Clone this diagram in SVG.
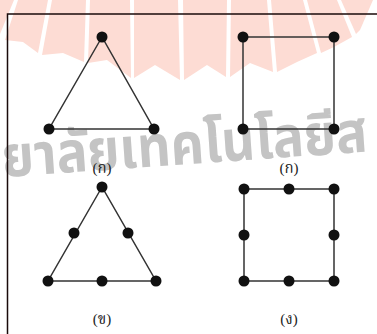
<svg xmlns="http://www.w3.org/2000/svg" width="377" height="334" viewBox="0 0 377 334">
<style>
.ray{fill:#fddcd4}
.wm{font-family:"Noto Sans Thai","Noto Sans",sans-serif;font-size:48px;font-weight:bold;fill:#c4c4c4}
.frame{stroke:#1a0a0a;stroke-width:1.5;fill:none}
.edge{stroke:#333;stroke-width:1.5;fill:none}
.dot{fill:#111}
.lbl{font-family:"Liberation Serif","Noto Serif Thai",serif;font-size:15px;fill:#222;text-anchor:middle}
</style>
<rect width="377" height="334" fill="#fff"/>
<g id="watermark">
<polygon class="ray" points="0,0 14,0 0,34"/>
<polygon class="ray" points="18,0 48,0 38,53 23,42 5,40"/>
<polygon class="ray" points="52,0 86,0 84,62 63,53 42,55"/>
<polygon class="ray" points="90,0 130,0 131,78 107,60 88,63"/>
<polygon class="ray" points="134,0 178,0 180,80 155,65 134,78"/>
<polygon class="ray" points="183,0 227,0 226,77 207,65 184,80"/>
<polygon class="ray" points="231,0 267,0 273,72 250,63 230,77"/>
<polygon class="ray" points="271,0 303,0 317,53 297,62 277,72"/>
<polygon class="ray" points="307,0 337,0 352,37 334,47 321,53"/>
<polygon class="ray" points="341,0 373,0 360,30 356,34"/>
<text class="wm" transform="translate(3 177) rotate(-4) scale(1.08 1.2)">ยาลัยเทคโนโลยีส</text>
</g>
<g id="frame">
<path class="frame" d="M7.5,334 V14 H377"/>
</g>
<g id="connectors">
<polygon class="edge" points="102,37 49,129 154,129"/>
<polygon class="edge" points="243,37 334,37 334,129 243,129"/>
<polygon class="edge" points="102,187 48,281 156,281"/>
<polygon class="edge" points="244,189 334,189 334,281 244,281"/>
</g>
<g id="fig-a-triangle">
<circle class="dot" cx="102" cy="37" r="5.5"/>
<circle class="dot" cx="49" cy="129" r="5.5"/>
<circle class="dot" cx="154" cy="129" r="5.5"/>
<text class="lbl" x="102" y="173">(ก)</text>
</g>
<g id="fig-a-square">
<circle class="dot" cx="243" cy="37" r="5.5"/>
<circle class="dot" cx="334" cy="37" r="5.5"/>
<circle class="dot" cx="243" cy="129" r="5.5"/>
<circle class="dot" cx="334" cy="129" r="5.5"/>
<text class="lbl" x="289" y="173">(ก)</text>
</g>
<g id="fig-b-triangle">
<circle class="dot" cx="102" cy="187" r="5.5"/>
<circle class="dot" cx="74" cy="233" r="5.5"/>
<circle class="dot" cx="128" cy="233" r="5.5"/>
<circle class="dot" cx="48" cy="281" r="5.5"/>
<circle class="dot" cx="102" cy="281" r="5.5"/>
<circle class="dot" cx="156" cy="281" r="5.5"/>
<text class="lbl" x="102" y="324">(ข)</text>
</g>
<g id="fig-d-square">
<circle class="dot" cx="244" cy="189" r="5.5"/>
<circle class="dot" cx="289" cy="189" r="5.5"/>
<circle class="dot" cx="334" cy="189" r="5.5"/>
<circle class="dot" cx="244" cy="235" r="5.5"/>
<circle class="dot" cx="334" cy="235" r="5.5"/>
<circle class="dot" cx="244" cy="281" r="5.5"/>
<circle class="dot" cx="289" cy="281" r="5.5"/>
<circle class="dot" cx="334" cy="281" r="5.5"/>
<text class="lbl" x="289" y="324">(ง)</text>
</g>
</svg>
